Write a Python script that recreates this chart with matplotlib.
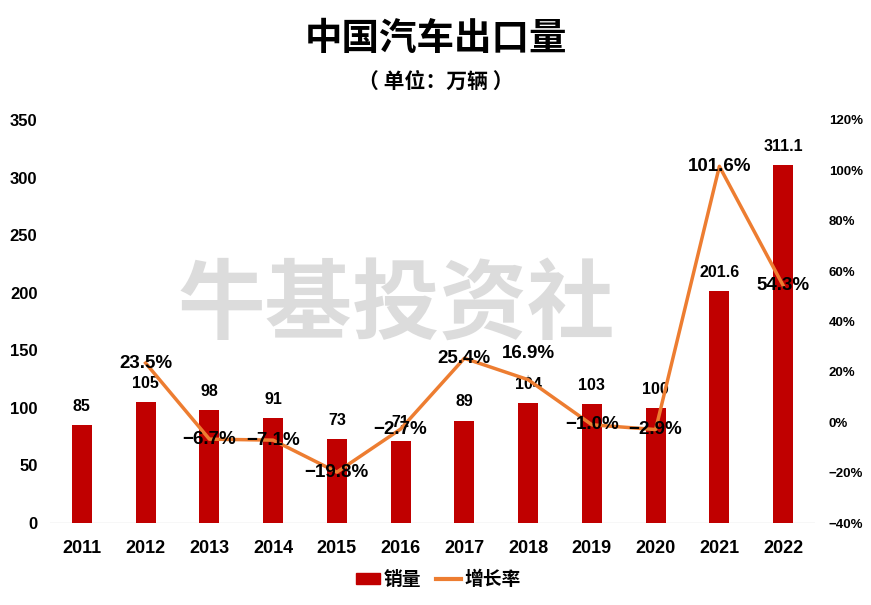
import matplotlib
matplotlib.use("Agg")
import matplotlib.pyplot as plt
from matplotlib.ticker import FuncFormatter, MultipleLocator
from matplotlib.lines import Line2D
from matplotlib.patches import Patch

plt.rcParams['font.family'] = ['Noto Sans CJK SC', 'DejaVu Sans']

years = ['2011', '2012', '2013', '2014', '2015', '2016', '2017', '2018', '2019', '2020', '2021', '2022']
sales = [85, 105, 98, 91, 73, 71, 89, 104, 103, 100, 201.6, 311.1]
sales_labels = ['85', '105', '98', '91', '73', '71', '89', '104', '103', '100', '201.6', '311.1']
growth_years = years[1:]
growth = [23.5, -6.7, -7.1, -19.8, -2.7, 25.4, 16.9, -1.0, -2.9, 101.6, 54.3]

bar_color = '#C00000'
line_color = '#ED7D31'
num_font = ['Liberation Sans', 'DejaVu Sans']

fig = plt.figure(figsize=(8.71, 6.05), dpi=100)
ax = fig.add_axes([0.0574, 0.1355, 0.8783, 0.6662])
ax2 = ax.twinx()

x = list(range(len(years)))
ax.bar(x, sales, width=0.31, color=bar_color, zorder=2)
ax.set_xlim(-0.5, len(years) - 0.5)
ax.set_ylim(0, 350)
ax.yaxis.set_major_locator(MultipleLocator(50))
ax.set_xticks(x)
ax.set_xticklabels(years)

for xi, v, lab in zip(x, sales, sales_labels):
    ax.annotate(lab, (xi, v), xytext=(0, 8), textcoords='offset points',
                ha='center', va='bottom', fontsize=11.5, fontweight='bold',
                color='black', family=num_font, zorder=5)

gx = [years.index(y) for y in growth_years]
ax2.plot(gx, growth, color=line_color, lw=2.5, zorder=3)
ax2.set_ylim(-40, 120)
ax2.yaxis.set_major_locator(MultipleLocator(20))
ax2.yaxis.set_major_formatter(FuncFormatter(lambda v, p: f'{int(v)}%'.replace('-', '−')))
for xi, g, yr in zip(gx, growth, growth_years):
    txt = f'{g:.1f}%'.replace('-', '−')
    if yr == '2018':
        ax2.annotate(txt, (xi, g), xytext=(0, 19), textcoords='offset points',
                     ha='center', va='center', fontsize=13.5, fontweight='bold',
                     color='black', family=num_font, zorder=6,
                     arrowprops=dict(arrowstyle='-', color='#A6A6A6', lw=0.8,
                                     shrinkA=8, shrinkB=2))
    else:
        ax2.text(xi, g, txt, ha='center', va='center',
                 fontsize=13.5, fontweight='bold', color='black',
                 family=num_font, zorder=6)

for a in (ax, ax2):
    for s in ['top', 'right', 'left', 'bottom']:
        a.spines[s].set_visible(False)
    a.tick_params(length=0)
ax.axhline(0, color='#D9D9D9', lw=1, zorder=1)

for lab in ax.get_yticklabels() + ax2.get_yticklabels():
    lab.set_fontweight('bold')
    lab.set_family(num_font)
for lab in ax.get_yticklabels():
    lab.set_fontsize(12)
for lab in ax2.get_yticklabels():
    lab.set_fontsize(9.5)
for lab in ax.get_xticklabels():
    lab.set_fontweight('bold')
    lab.set_fontsize(13)
    lab.set_family(num_font)
ax.tick_params(axis='y', pad=9)
ax2.tick_params(axis='y', pad=10)
ax.tick_params(axis='x', pad=12)

# watermark
fig.text(0.455, 0.493, '牛基投资社', ha='center', va='center', fontsize=63,
         fontweight='black', color='#DCDCDC', style='italic', zorder=0)

fig.text(0.5, 0.937, '中国汽车出口量', ha='center', va='center', fontsize=27,
         fontweight='bold')
fig.text(0.5, 0.865, '（ 单位：万辆 ）', ha='center', va='center', fontsize=15,
         fontweight='bold')

handles = [Patch(color=bar_color), Line2D([0], [0], color=line_color, lw=3)]
leg = fig.legend(handles, ['销量', '增长率'], loc='center', bbox_to_anchor=(0.503, 0.042),
                 ncol=2, frameon=False, handlelength=1.3, handleheight=0.55,
                 columnspacing=0.8, handletextpad=0.2,
                 prop={'family': 'Noto Sans CJK SC', 'weight': 'bold', 'size': 13.5})

fig.savefig('out.png', dpi=100)
